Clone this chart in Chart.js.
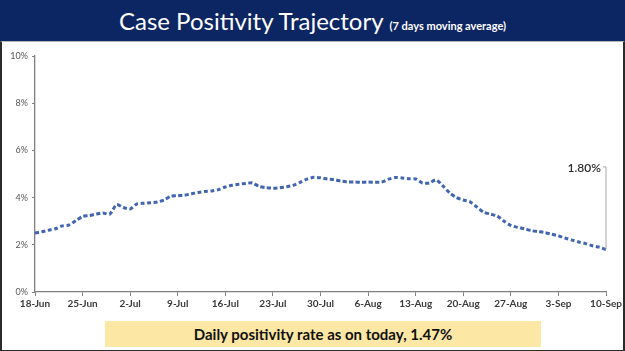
<!DOCTYPE html>
<html>
<head>
<meta charset="utf-8">
<script src="https://cdn.jsdelivr.net/npm/chart.js@4/dist/chart.umd.min.js"></script>
<style>
  html, body { margin:0; padding:0; background:#fff; }
  body { width:625px; height:351px; position:relative; overflow:hidden; font-family:Lato, "Open Sans", sans-serif; }
  #banner { position:absolute; left:0; top:0; width:625px; height:41px; background:#0c2563; color:#fff; text-align:center; white-space:nowrap; }
  #banner .main { font-size:24px; line-height:41px; letter-spacing:0px; }
  #banner .sub { font-size:11px; font-weight:bold; margin-left:6px; }
  #frame { position:absolute; left:0; top:41px; width:621px; height:308px; border:2px solid #2b2b2b; border-top:1px solid #b9b9b9; }
  #wrap { position:absolute; left:0; top:44px; width:625px; height:276px; }
  #c { display:block; }
  #note { position:absolute; left:105px; top:321px; width:436px; height:26px; background:#fde7a4; color:#111; font-weight:bold; font-size:15px; line-height:26px; text-align:center; }
</style>
</head>
<body>
<div id="banner"><span class="main">Case Positivity Trajectory</span><span class="sub">(7 days moving average)</span></div>
<div id="frame"></div>
<div id="wrap"><canvas id="c" width="625" height="276" style="width:625px;height:276px"></canvas></div>
<div id="note">Daily positivity rate as on today, 1.47%</div>
<script>
// Week labels (every 7th day from 18-Jun to 10-Sep)
const weekLabels = ['18-Jun','25-Jun','2-Jul','9-Jul','16-Jul','23-Jul','30-Jul','6-Aug','13-Aug','20-Aug','27-Aug','3-Sep','10-Sep'];
// Y axis ticks (percent)
const yTickValues = [0, 2, 4, 6, 8, 10];
// Daily 7-day moving average positivity (%), 18-Jun .. 10-Sep
const positivity = [
  2.50, 2.55, 2.62, 2.68, 2.80, 2.84, 3.02, 3.20, 3.24, 3.30,
  3.35, 3.30, 3.70, 3.58, 3.52, 3.73, 3.76, 3.78, 3.81, 3.90,
  4.06, 4.08, 4.10, 4.16, 4.22, 4.26, 4.28, 4.34, 4.45, 4.52,
  4.57, 4.60, 4.62, 4.47, 4.42, 4.40, 4.42, 4.46, 4.52, 4.65,
  4.78, 4.86, 4.84, 4.79, 4.76, 4.70, 4.66, 4.66, 4.65, 4.66,
  4.65, 4.66, 4.78, 4.85, 4.83, 4.80, 4.79, 4.62, 4.62, 4.75,
  4.50, 4.20, 4.00, 3.90, 3.82, 3.60, 3.38, 3.30, 3.22, 3.00,
  2.82, 2.74, 2.68, 2.60, 2.56, 2.52, 2.45, 2.38, 2.28, 2.20,
  2.12, 2.05, 1.96, 1.90, 1.80
];
const calloutAnchor = 5.3; // % level where the last-value callout sits

const leader = {
  id: 'leader',
  afterDatasetsDraw(chart) {
    const meta = chart.getDatasetMeta(0);
    const last = meta.data[meta.data.length - 1];
    const topY = chart.scales.y.getPixelForValue(calloutAnchor);
    const ctx = chart.ctx;
    ctx.save();
    ctx.strokeStyle = '#a8a8a8';
    ctx.lineWidth = 1;
    ctx.beginPath();
    ctx.moveTo(last.x - 3, topY);
    ctx.lineTo(last.x, topY);
    ctx.lineTo(last.x, last.y);
    ctx.stroke();
    ctx.fillStyle = '#2e2e2e';
    ctx.font = '600 12px Lato, "Open Sans", sans-serif';
    ctx.textAlign = 'right';
    ctx.textBaseline = 'middle';
    ctx.fillText(positivity[positivity.length - 1].toFixed(2) + '%', last.x - 5, topY + 1);
    ctx.restore();
  }
};

new Chart(document.getElementById('c'), {
  type: 'line',
  data: {
    datasets: [{
      data: positivity.map((v, i) => ({ x: i, y: v })),
      borderColor: '#4165b0',
      borderWidth: 3,
      borderDash: [4, 2.5],
      pointRadius: 0,
      tension: 0.25,
      fill: false
    }]
  },
  options: {
    responsive: false,
    animation: false,
    maintainAspectRatio: false,
    devicePixelRatio: 1,
    layout: { padding: { top: 12, right: 19, bottom: 0, left: 0 } },
    plugins: { legend: { display: false }, tooltip: { enabled: false } },
    scales: {
      x: {
        type: 'linear',
        min: 0,
        max: (weekLabels.length - 1) * 7,
        afterFit(s) { s.height = 28; },
        afterBuildTicks(s) { s.ticks = weekLabels.map((_, i) => ({ value: i * 7 })); },
        ticks: {
          autoSkip: false,
          maxRotation: 0,
          padding: 2,
          color: '#3a3a3a',
          font: { family: 'Lato, "Open Sans", sans-serif', size: 10, weight: 'bold' },
          callback: (v) => weekLabels[Math.round(v / 7)]
        },
        grid: { display: true, drawOnChartArea: false, drawTicks: true, tickLength: 4, color: '#7f7f7f' },
        border: { display: true, color: '#7f7f7f', width: 1.3 }
      },
      y: {
        min: 0,
        max: 10,
        afterFit(s) { s.width = 35; },
        afterBuildTicks(s) { s.ticks = yTickValues.map(v => ({ value: v })); },
        ticks: {
          padding: 4,
          color: '#595959',
          font: { family: 'Lato, "Open Sans", sans-serif', size: 9 },
          callback: (v) => v + '%'
        },
        grid: { display: true, drawOnChartArea: false, drawTicks: true, tickLength: 3, color: '#7f7f7f' },
        border: { display: true, color: '#7f7f7f', width: 1.3 }
      }
    }
  },
  plugins: [leader]
});
</script>
</body>
</html>
